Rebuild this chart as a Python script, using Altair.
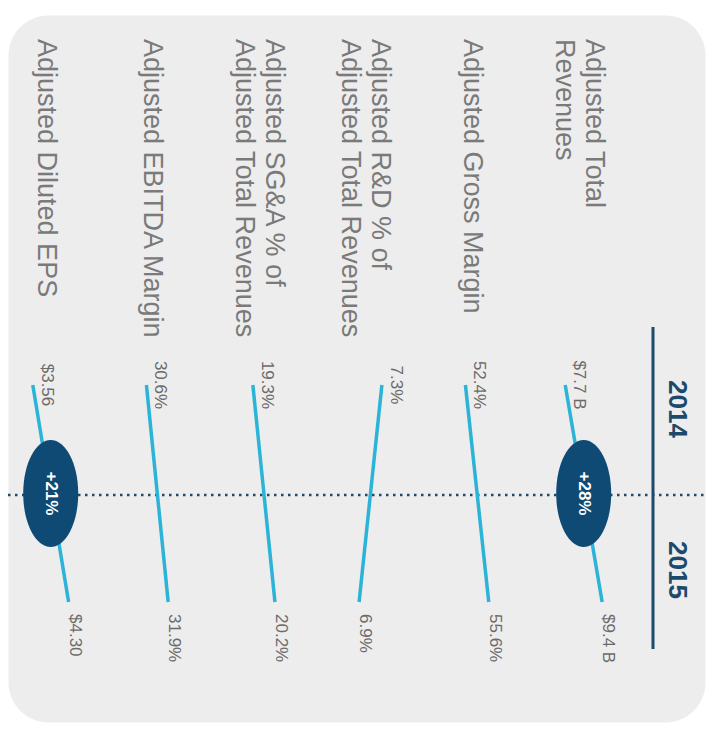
import altair as alt
import numpy as np
import pandas as pd

# ---- data (left to right as drawn) ----
metrics = [
    "Adjusted Diluted EPS",
    "Adjusted EBITDA Margin",
    "Adjusted SG&A % of\nAdjusted Total Revenues",
    "Adjusted R&D % of\nAdjusted Total Revenues",
    "Adjusted Gross Margin",
    "Adjusted Total\nRevenues",
]
values_2014 = [3.56, 30.6, 19.3, 7.3, 52.4, 7.7]
values_2015 = [4.30, 31.9, 20.2, 6.9, 55.6, 9.4]
labels_2014 = ["$3.56", "30.6%", "19.3%", "7.3%", "52.4%", "$7.7 B"]
labels_2015 = ["$4.30", "31.9%", "20.2%", "6.9%", "55.6%", "$9.4 B"]
growth = ["+21%", "", "", "", "", "+28%"]
years = ["2014", "2015"]

NAVY = "#0f4a74"
RULE_NAVY = "#1d4a6b"
CYAN = "#2bb3d8"
GRAY = "#6b6b6b"
LABEL_GRAY = "#7a7a7a"
FONT = "Liberation Sans"

LANE_PX = 106.6
LINE_H = 30

df = pd.DataFrame({
    "metric": metrics,
    "v2014": values_2014,
    "v2015": values_2015,
    "l2014": labels_2014,
    "l2015": labels_2015,
    "growth": growth,
})
df["lane"] = np.arange(len(df), dtype=float)
pct = (df["v2015"] - df["v2014"]) / df["v2014"]
df["lean"] = np.sign(pct) * (0.17 + 0.8 * pct.abs())
df["x0"] = df["lane"] - df["lean"] / 2
df["x1"] = df["lane"] + df["lean"] / 2
df["t0"] = 0.0
df["t1"] = 1.0
df["tm"] = 0.5
# multi-line labels: centre the block on the lane (first line is drawn at the anchor)
n_lines = df["metric"].str.count("\n")
df["label_x"] = df["lane"] + n_lines * (LINE_H / 2) / LANE_PX

W, H = 697, 707
X = alt.Scale(domain=[-0.4006, 6.138], nice=False, zero=False)
Y = alt.Scale(domain=[-1.705, 1.553], nice=False, zero=False, reverse=True)

ELLIPSE = "M0,-1A0.514,1,0,1,1,0,1A0.514,1,0,1,1,0,-1Z"

base = alt.Chart(df)

dotted = alt.Chart(pd.DataFrame({"a": [0]})).mark_rule(
    color=RULE_NAVY, strokeWidth=2.5, strokeDash=[2.5, 4.5]
).encode(x=alt.value(0), x2=alt.value(W), y=alt.value(480))

separator = alt.Chart(pd.DataFrame({"a": [0]})).mark_rule(
    color=RULE_NAVY, strokeWidth=3
).encode(x=alt.value(645), y=alt.value(312), y2=alt.value(634))

lines = base.mark_rule(color=CYAN, strokeWidth=3.5).encode(
    x=alt.X("x0:Q", scale=X, axis=None),
    x2="x1:Q",
    y=alt.Y("t0:Q", scale=Y, axis=None),
    y2="t1:Q",
)

start_labels = base.mark_text(
    angle=90, align="center", baseline="middle", dy=-14,
    fontSize=17, color=GRAY, font=FONT
).encode(
    x=alt.X("x0:Q", scale=X, axis=None),
    y=alt.Y("t0:Q", scale=Y, axis=None),
    text="l2014:N",
)

end_labels = base.mark_text(
    angle=90, align="left", baseline="middle", dx=12, dy=-6,
    fontSize=17, color=GRAY, font=FONT
).encode(
    x=alt.X("x1:Q", scale=X, axis=None),
    y=alt.Y("t1:Q", scale=Y, axis=None),
    text="l2015:N",
)

cat_labels = base.mark_text(
    angle=90, align="left", baseline="middle", lineBreak="\n",
    fontSize=27, lineHeight=LINE_H, dy=5, color=LABEL_GRAY, font=FONT
).encode(
    x=alt.X("label_x:Q", scale=X, axis=None),
    y=alt.value(24),
    text="metric:N",
)

ellipses = base.transform_filter("datum.growth != ''").mark_point(
    shape=ELLIPSE, size=11449, filled=True, color=NAVY, opacity=1, strokeWidth=0
).encode(
    x=alt.X("lane:Q", scale=X, axis=None),
    y=alt.Y("tm:Q", scale=Y, axis=None),
)

growth_text = base.transform_filter("datum.growth != ''").mark_text(
    angle=90, align="center", baseline="middle", fontSize=17,
    fontWeight="bold", color="white", font=FONT
).encode(
    x=alt.X("lane:Q", scale=X, axis=None),
    y=alt.Y("tm:Q", scale=Y, axis=None),
    text="growth:N",
)

year_df = pd.DataFrame({"year": years})
year14 = alt.Chart(year_df).transform_filter("datum.year == '2014'").mark_text(
    angle=90, align="center", baseline="middle", fontSize=26,
    fontWeight="bold", color=RULE_NAVY, font=FONT
).encode(x=alt.value(669), y=alt.value(394), text="year:N")
year15 = alt.Chart(year_df).transform_filter("datum.year == '2015'").mark_text(
    angle=90, align="center", baseline="middle", fontSize=26,
    fontWeight="bold", color=RULE_NAVY, font=FONT
).encode(x=alt.value(669), y=alt.value(555), text="year:N")

chart = alt.layer(
    dotted, separator, lines, start_labels, end_labels, cat_labels,
    ellipses, growth_text, year14, year15
).properties(
    width=W, height=H,
    autosize=alt.AutoSizeParams(type="none"),
    padding={"left": 0, "top": 7, "right": 1, "bottom": 8},
    background="white",
).configure_view(
    fill="#ededed", stroke="transparent", cornerRadius=40
)

chart.save("out.html", embed_options={"renderer": "svg", "actions": False})
